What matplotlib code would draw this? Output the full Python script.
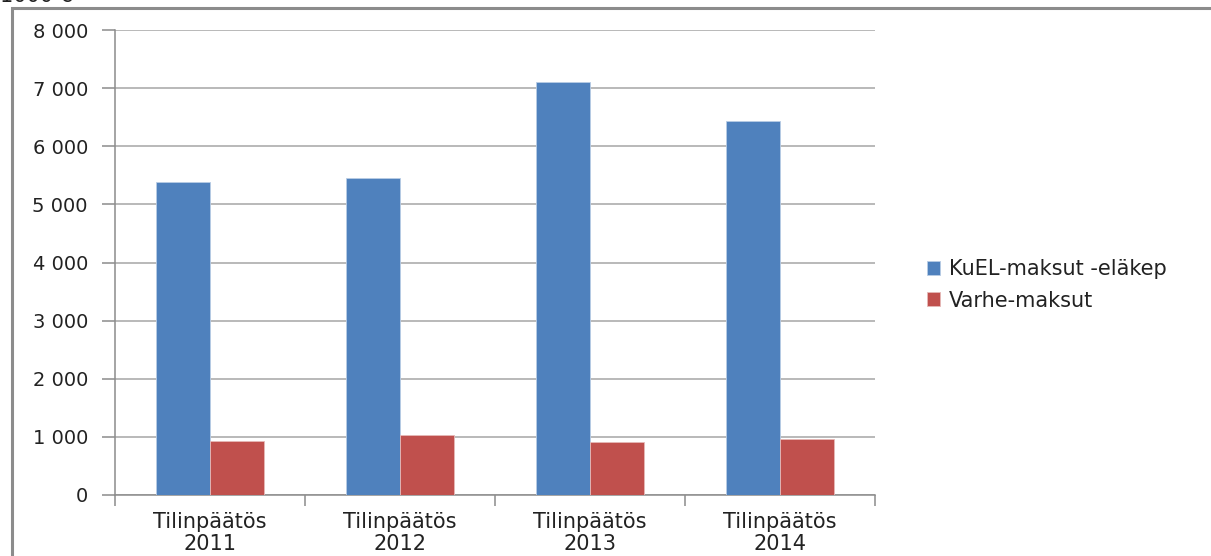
import matplotlib
matplotlib.use("Agg")
import matplotlib.pyplot as plt
from matplotlib.patches import Rectangle
from matplotlib.ticker import FuncFormatter

categories = ["Tilinpäätös\n2011", "Tilinpäätös\n2012", "Tilinpäätös\n2013", "Tilinpäätös\n2014"]
kuel = [5380, 5460, 7100, 6440]
varhe = [930, 1035, 915, 965]
series_names = ["KuEL-maksut -eläkep", "Varhe-maksut"]
y_ticks = [0, 1000, 2000, 3000, 4000, 5000, 6000, 7000, 8000]
unit_label = "1000 €"

W, H = 1211, 556
plt.rcParams['font.family'] = ['DejaVu Sans']
fig = plt.figure(figsize=(W / 100, H / 100), dpi=100)

# chart frame
fig.patches.append(Rectangle((12 / W, -0.1), 1.2, (H - 8) / H + 0.1, transform=fig.transFigure,
                             fill=False, edgecolor="#8c8c8c", linewidth=2.2, zorder=0))
fig.text(0 / W, 1.0 + 4 / H, unit_label, fontsize=15, va="center", ha="left", color="#222222")

left, right, top, bottom = 115, 875, 30, 495
ax = fig.add_axes([left / W, 1 - bottom / H, (right - left) / W, (bottom - top) / H])

x = list(range(len(categories)))
bw = 0.284
blue = "#4f81bd"
red = "#c0504d"
ax.bar([i - bw / 2 for i in x], kuel, width=bw, color=blue, edgecolor="#b9cde5", linewidth=0.6,
       label=series_names[0], zorder=3)
ax.bar([i + bw / 2 for i in x], varhe, width=bw, color=red, edgecolor="#e6b9b8", linewidth=0.6,
       label=series_names[1], zorder=3)

ax.set_xlim(-0.5, len(categories) - 0.5)
ax.set_ylim(0, 8000)
ax.set_yticks(y_ticks)
ax.yaxis.set_major_formatter(FuncFormatter(lambda v, p: f"{int(v):,}".replace(",", " ")))
ax.grid(axis="y", color="#a6a6a6", linewidth=1.1, zorder=0)
ax.set_axisbelow(True)

for s in ["top", "right"]:
    ax.spines[s].set_visible(False)
ax.spines["left"].set_color("#8c8c8c")
ax.spines["bottom"].set_color("#8c8c8c")
ax.spines["left"].set_linewidth(1.1)
ax.spines["bottom"].set_linewidth(1.1)

ax.tick_params(axis="y", length=9.5, color="#8c8c8c", width=1.1, labelsize=14, pad=10, labelcolor="#222222")
ax.set_xticks(x)
ax.set_xticklabels(categories, fontsize=15, color="#222222", linespacing=1.15)
ax.tick_params(axis="x", length=0, pad=12)
# category boundary ticks
ax.set_xticks([i - 0.5 for i in range(len(categories) + 1)], minor=True)
ax.tick_params(axis="x", which="minor", length=8, color="#8c8c8c", width=1.1)

leg = ax.legend(loc="center left", bbox_to_anchor=(908 / W, 1 - 285 / H), bbox_transform=fig.transFigure,
                frameon=False, fontsize=15, handlelength=0.65, handleheight=0.65, handletextpad=0.4,
                labelspacing=0.55)
for t in leg.get_texts():
    t.set_color("#222222")

fig.savefig("out.png", dpi=100, facecolor="white")
